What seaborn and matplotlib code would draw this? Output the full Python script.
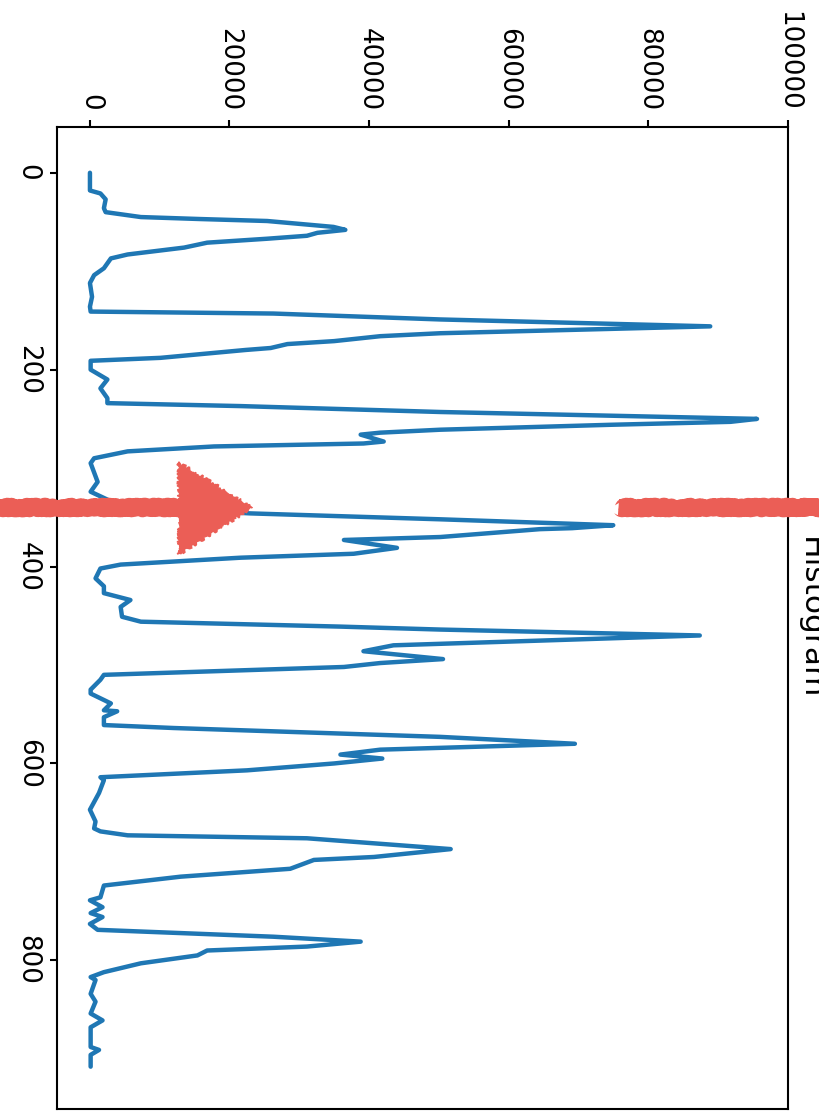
import matplotlib
matplotlib.use("Agg")
import matplotlib.pyplot as plt
import seaborn as sns

# --- dane (indeks wiersza, liczba pikseli) ---
hist_index = [0, 18, 21, 27, 36, 40, 45, 47, 49, 55, 58, 61, 64, 67, 71, 76, 83, 87, 97, 104,
              112, 126, 136, 141, 143, 149, 156, 163, 166, 171, 174, 178, 180, 188, 191, 200,
              210, 219, 229, 234, 237, 243, 250, 253, 256, 261, 264, 266, 273, 275, 278, 283,
              290, 295, 314, 324, 332, 339, 346, 352, 358, 361, 362, 370, 373, 381, 387, 391,
              398, 402, 412, 420, 427, 434, 441, 451, 456, 461, 464, 470, 480, 486, 494, 498,
              502, 510, 515, 525, 529, 539, 546, 547, 553, 561, 564, 573, 580, 586, 591, 595,
              600, 607, 614, 617, 630, 647, 659, 666, 669, 673, 676, 687, 695, 698, 707, 715,
              724, 736, 739, 746, 752, 756, 763, 769, 776, 781, 786, 790, 795, 803, 812, 817,
              820, 834, 842, 854, 861, 868, 888, 891, 896, 908]
hist_count = [0, 0, 1500, 2250, 2000, 2250, 7300, 15800, 25400, 34900, 36600, 32600, 31100,
              25400, 16800, 13500, 5400, 3000, 2000, 600,
              0, 300, 0, 100, 26300, 50200, 88900, 50200, 41600, 35000, 28300, 25900, 22300,
              10100, 100, 100,
              2500, 1500, 2500, 2500, 21600, 50200, 95600, 91800, 74600, 50200, 41600, 38800,
              42100, 39200, 17800, 5400,
              600, 100, 1100, 100, 2500, 4400, 23000, 50200, 75000, 69100, 64500, 50200, 36400,
              44000, 37800, 21600,
              4400, 1500, 800, 2000, 2000, 5800, 4400, 4600, 7300, 35900, 50200, 87400, 43500,
              39200, 50600, 41600,
              36400, 2000, 1500, 100, 100, 3000, 2000, 3900, 2000, 2000, 12000, 50200, 69500,
              41600, 35900, 41900,
              35000, 22500, 1500, 2000, 1300, 0, 800, 600, 1500, 5400, 31100, 51700, 40700,
              32100, 28700, 13000,
              2000, 1500, 0, 1800, 100, 1800, 0, 1100, 26300, 38800, 31100, 16800, 15400, 7300,
              2000, 100,
              800, 100, 800, 100, 1800, 100, 100, 1300, 100, 100]

count_ticks = [0, 20000, 40000, 60000, 80000, 100000]
index_ticks = [0, 200, 400, 600, 800]
tytul = "Histogram"

# strzalka (czerwony znacznik) - wiersz i zakresy
ARROW_ROW = 340
RED = "#eb5e56"
BLUE = "#1f77b4"

sns.set_style("ticks")
plt.rcParams['font.family'] = ['DejaVu Sans']
plt.rcParams['axes.edgecolor'] = 'black'
plt.rcParams['axes.linewidth'] = 1.5
plt.rcParams['xtick.color'] = 'black'
plt.rcParams['ytick.color'] = 'black'
plt.rcParams['text.color'] = 'black'

fig = plt.figure(figsize=(8.2, 11.11), dpi=100)
ax = fig.add_axes([0.0691, 0.0018, 0.8915, 0.8839])

# wykres obrocony o 90 stopni: liczba na poziomej osi, indeks w dol
sns.lineplot(x=hist_count, y=hist_index, orient="y", sort=False, estimator=None,
             color=BLUE, linewidth=3.2, ax=ax)

ax.set_xlim(-4770, 100000)
ax.set_ylim(951, -46.5)
ax.set_xlabel("")
ax.set_ylabel("")

ax.xaxis.tick_top()
ax.set_xticks(count_ticks)
ax.set_xticklabels([str(v) for v in count_ticks], rotation=-90, fontsize=18.8)
ax.set_yticks(index_ticks)
ax.set_yticklabels([str(v) for v in index_ticks], rotation=-90, fontsize=18.8, va="center")
ax.tick_params(axis="both", length=5, width=1.5, pad=6.5)
for s in ax.spines.values():
    s.set_visible(True)

# tytul po prawej stronie (obrocony, czesciowo uciety)
ax.annotate(tytul, xy=(1, 0.5), xycoords="axes fraction", xytext=(6, 0),
            textcoords="offset points", rotation=-90, ha="left", va="center",
            fontsize=22.5, color="black", annotation_clip=False)

# --- czerwona strzalka ---
shaft, = ax.plot([-13500, 13000], [ARROW_ROW, ARROW_ROW], color=RED, lw=12,
                 solid_capstyle="butt", clip_on=False, zorder=5)
shaft.set_sketch_params(1.5, 6, 20)
head = ax.fill([12700, 23300, 12700], [294, ARROW_ROW, 388], color=RED,
               clip_on=False, zorder=5)[0]
head.set_sketch_params(1.5, 6, 20)
tail, = ax.plot([75700, 106000], [ARROW_ROW - 1, ARROW_ROW - 1], color=RED, lw=12,
                solid_capstyle="butt", clip_on=False, zorder=5)
tail.set_sketch_params(1.5, 6, 20)

plt.savefig("out.png", dpi=100)
